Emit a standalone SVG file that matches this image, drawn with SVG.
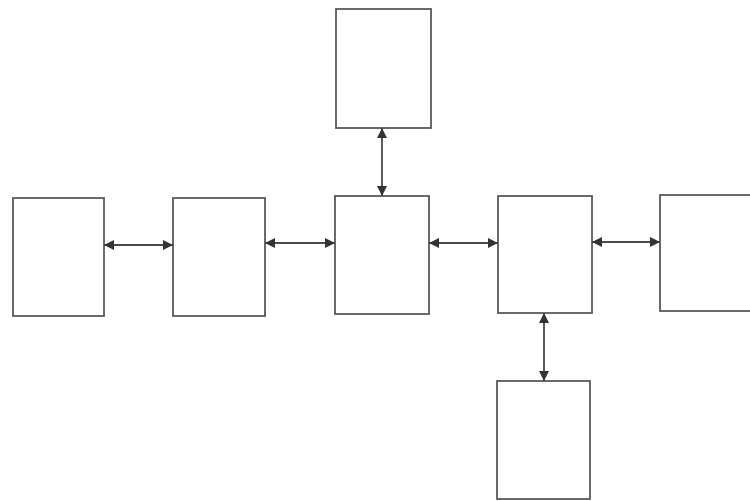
<svg xmlns="http://www.w3.org/2000/svg" width="750" height="501" viewBox="0 0 750 501">
<style>
.box{fill:#ffffff;stroke:#5a5a5a;stroke-width:1.8}
.con{stroke:#4a4a4a;stroke-width:1.8;fill:none;marker-start:url(#ah);marker-end:url(#ah)}
</style>
<defs>
<marker id="ah" viewBox="0 0 10 10" refX="10" refY="5" markerWidth="11" markerHeight="10" markerUnits="userSpaceOnUse" orient="auto-start-reverse">
<path d="M0,0 L10,5 L0,10 z" fill="#333333"/>
</marker>
</defs>
<rect width="750" height="501" fill="#ffffff"/>
<g id="node-left"><rect class="box" x="13" y="198" width="91" height="118"/></g>
<g id="node-left2"><rect class="box" x="173" y="198" width="92" height="118"/></g>
<g id="node-center"><rect class="box" x="335" y="196" width="94" height="118"/></g>
<g id="node-top"><rect class="box" x="336" y="9" width="95" height="119"/></g>
<g id="node-right1"><rect class="box" x="498" y="196" width="94" height="117"/></g>
<g id="node-bottom"><rect class="box" x="497" y="381" width="93" height="118"/></g>
<g id="node-right2"><rect class="box" x="660" y="195" width="100" height="116"/></g>
<g id="connectors">
<line class="con" x1="104" y1="245" x2="173" y2="245"/>
<line class="con" x1="265" y1="243" x2="335" y2="243"/>
<line class="con" x1="429" y1="243" x2="498" y2="243"/>
<line class="con" x1="592" y1="242" x2="660" y2="242"/>
<line class="con" x1="382" y1="128" x2="382" y2="196"/>
<line class="con" x1="544" y1="313" x2="544" y2="381"/>
</g>
</svg>
